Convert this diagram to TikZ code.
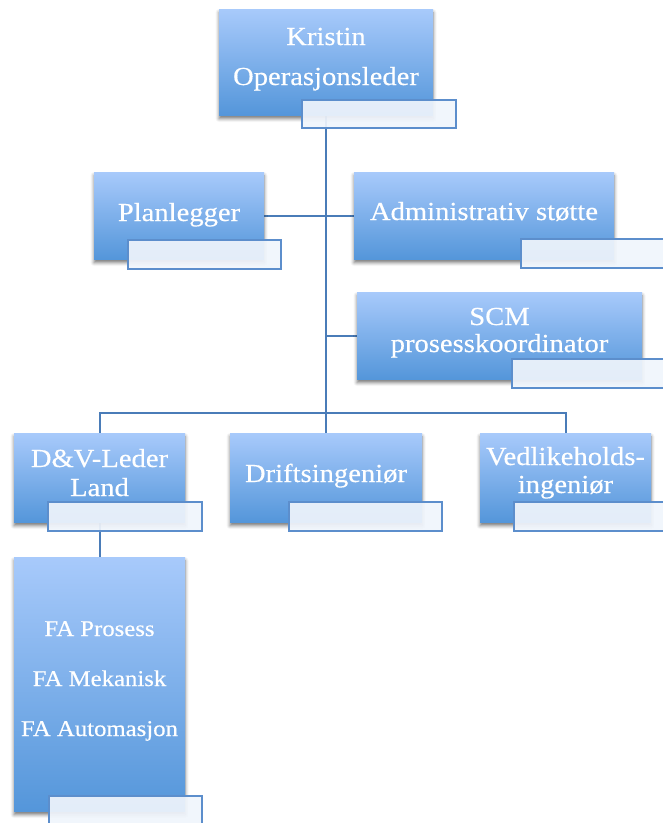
\documentclass[tikz,border=0pt]{standalone}
\usepackage{fontspec}
\newfontfamily\boxfont{Liberation Serif}[FakeStretch=1.1,FakeBold=0.4]
\usetikzlibrary{shadows.blur}
\pgfdeclarelayer{lines}
\pgfsetlayers{lines,main}
\definecolor{boxtop}{RGB}{168,202,251}
\definecolor{boxbottom}{RGB}{84,150,218}
\definecolor{linkblue}{RGB}{74,124,184}
\definecolor{tagedge}{RGB}{92,142,204}
\definecolor{tagfill}{RGB}{240,245,252}

\begin{document}
\begin{tikzpicture}[x=1pt,y=-1pt,
  unitbox/.style={rectangle, inner sep=0pt, outer sep=0pt, draw=none,
    top color=boxtop, bottom color=boxbottom,
    blur shadow={shadow xshift=0pt, shadow yshift=-3.5pt,
                 shadow blur radius=3.5pt, shadow opacity=55}},
  tagbox/.style={rectangle, inner sep=0pt, outer sep=0pt, draw=tagedge,
    line width=1.9pt, fill=tagfill, fill opacity=0.92},
  boxtext/.style={text=white, inner sep=0pt, anchor=base,
    font=\boxfont\fontsize{26}{30}\selectfont},
  smalltext/.style={boxtext, font=\boxfont\fontsize{22.5}{26}\selectfont},
  link/.style={draw=linkblue, line width=2pt}
]
\useasboundingbox (0,0) rectangle (663,823);
\clip (0,0) rectangle (663,823);

% unit boxes
\node[unitbox, minimum width=214pt, minimum height=106pt] (kristin) at (326,62) {};
\node[unitbox, minimum width=170pt, minimum height=87pt] (plan) at (179,215.5) {};
\node[unitbox, minimum width=260pt, minimum height=87pt] (admin) at (484,215.5) {};
\node[unitbox, minimum width=285pt, minimum height=87pt] (scm) at (499.5,335.5) {};
\node[unitbox, minimum width=171pt, minimum height=89pt] (dv) at (99.5,477.5) {};
\node[unitbox, minimum width=192pt, minimum height=89pt] (drifts) at (326,477.5) {};
\node[unitbox, minimum width=171pt, minimum height=89pt] (ved) at (565.5,477.5) {};
\node[unitbox, minimum width=171pt, minimum height=254pt] (fa) at (99.5,684) {};

% titles
\node[boxtext] (kristin-1) at (326,45) {Kristin};
\node[boxtext] (kristin-2) at (326,85) {Operasjonsleder};
\node[boxtext] (plan-1) at (179,221) {Planlegger};
\node[boxtext] (admin-1) at (484,220) {Administrativ støtte};
\node[boxtext] (scm-1) at (499.5,325) {SCM};
\node[boxtext] (scm-2) at (499.5,352) {prosesskoordinator};
\node[boxtext] (dv-1) at (99.5,467) {D\&V-Leder};
\node[boxtext] (dv-2) at (99.5,496) {Land};
\node[boxtext] (drifts-1) at (326,482) {Driftsingeniør};
\node[boxtext] (ved-1) at (565.5,465) {Vedlikeholds-};
\node[boxtext] (ved-2) at (565.5,493) {ingeniør};
\node[smalltext] (fa-1) at (99.5,636) {FA Prosess};
\node[smalltext] (fa-2) at (99.5,686) {FA Mekanisk};
\node[smalltext] (fa-3) at (99.5,736) {FA Automasjon};

% name tags
\node[tagbox, minimum width=154pt, minimum height=28pt] (kristin-tag) at (379,114) {};
\node[tagbox, minimum width=153pt, minimum height=29pt] (plan-tag) at (204.5,254.5) {};
\node[tagbox, minimum width=153pt, minimum height=29pt] (admin-tag) at (597.5,253.5) {};
\node[tagbox, minimum width=153pt, minimum height=29pt] (scm-tag) at (588.5,373.5) {};
\node[tagbox, minimum width=154pt, minimum height=29pt] (dv-tag) at (125,516.5) {};
\node[tagbox, minimum width=153pt, minimum height=29pt] (drifts-tag) at (365.5,516.5) {};
\node[tagbox, minimum width=153pt, minimum height=29pt] (ved-tag) at (590.5,516.5) {};
\node[tagbox, minimum width=153pt, minimum height=29pt] (fa-tag) at (125.5,810.5) {};

% connectors
\coordinate (bar) at (326,413);
\begin{pgfonlayer}{lines}
\draw[link] (kristin.south) -- (drifts.north);
\draw[link] (kristin.south) |- (plan.east);
\draw[link] (kristin.south) |- (admin.west);
\draw[link] (kristin.south) |- (scm.west);
\draw[link] (bar) -| (dv.north);
\draw[link] (bar) -| (ved.north);
\draw[link] (dv.south) -- (fa.north);
\end{pgfonlayer}
\end{tikzpicture}
\end{document}
